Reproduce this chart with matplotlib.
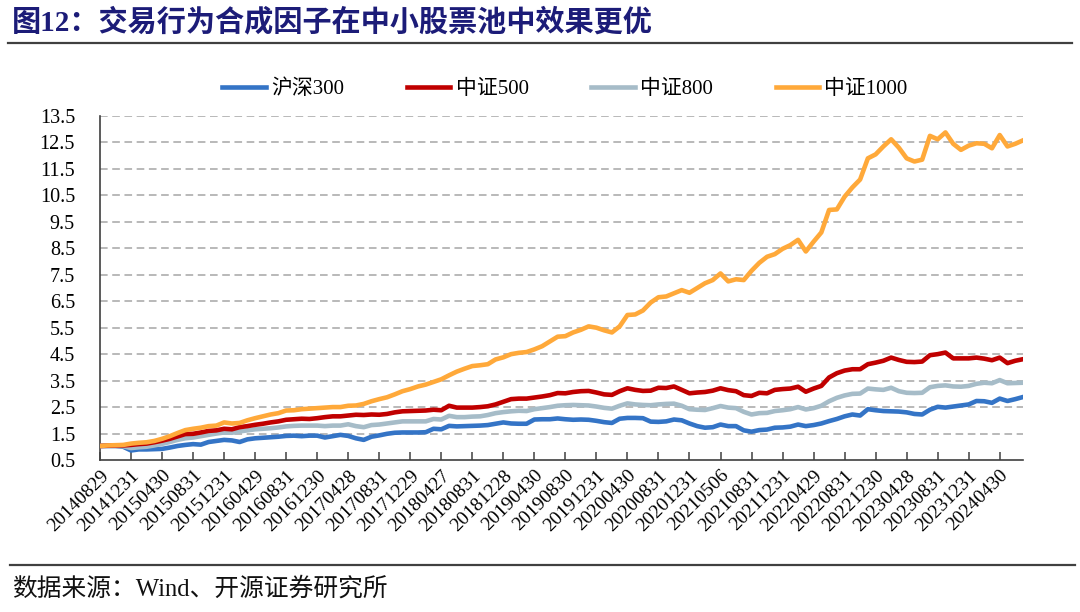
import matplotlib
matplotlib.use("Agg")
import matplotlib.pyplot as plt
from matplotlib.lines import Line2D

# ---- data ----
tick_labels = ["20140829", "20141231", "20150430", "20150831", "20151231", "20160429",
               "20160831", "20161230", "20170428", "20170831", "20171229", "20180427",
               "20180831", "20181228", "20190430", "20190830", "20191231", "20200430",
               "20200831", "20201231", "20210506", "20210831", "20211231", "20220429",
               "20220831", "20221230", "20230428", "20230831", "20231231", "20240430"]
series_names = ["沪深300", "中证500", "中证800", "中证1000"]

hs300 = [1.03, 1.03, 1.03, 1.00, 0.86, 0.90, 0.90, 0.91, 0.92, 0.97,
         1.03, 1.07, 1.10, 1.08, 1.18, 1.22, 1.26, 1.24, 1.18, 1.28,
         1.32, 1.34, 1.36, 1.38, 1.41, 1.42, 1.40, 1.42, 1.42, 1.35,
         1.40, 1.45, 1.41, 1.32, 1.26, 1.38, 1.43, 1.49, 1.53, 1.54,
         1.54, 1.54, 1.55, 1.68, 1.66, 1.79, 1.77, 1.78, 1.79, 1.80,
         1.82, 1.87, 1.92, 1.88, 1.87, 1.87, 2.03, 2.04, 2.04, 2.07,
         2.04, 2.02, 2.03, 2.02, 1.98, 1.93, 1.90, 2.06, 2.09, 2.09,
         2.08, 1.95, 1.94, 1.96, 2.03, 2.00, 1.88, 1.78, 1.72, 1.74,
         1.84, 1.78, 1.78, 1.62, 1.57, 1.63, 1.65, 1.72, 1.73, 1.76,
         1.84, 1.78, 1.82, 1.88, 1.97, 2.05, 2.15, 2.22, 2.18, 2.42,
         2.38, 2.35, 2.34, 2.33, 2.30, 2.24, 2.22, 2.40, 2.51, 2.48,
         2.52, 2.56, 2.60, 2.73, 2.72, 2.66, 2.82, 2.73, 2.80, 2.88]

zz500 = [1.03, 1.04, 1.05, 1.05, 1.07, 1.10, 1.12, 1.17, 1.23, 1.30,
         1.39, 1.48, 1.49, 1.54, 1.60, 1.62, 1.68, 1.66, 1.74, 1.78,
         1.83, 1.87, 1.92, 1.96, 2.02, 2.04, 2.06, 2.05, 2.08, 2.12,
         2.15, 2.15, 2.18, 2.21, 2.20, 2.22, 2.21, 2.24, 2.30, 2.34,
         2.35, 2.36, 2.37, 2.40, 2.38, 2.55, 2.48, 2.48, 2.48, 2.50,
         2.53, 2.60, 2.70, 2.80, 2.82, 2.82, 2.86, 2.90, 2.95, 3.03,
         3.02, 3.07, 3.10, 3.11, 3.05, 2.98, 2.96, 3.10, 3.21, 3.15,
         3.11, 3.12, 3.23, 3.22, 3.28, 3.15, 3.02, 3.05, 3.07, 3.12,
         3.21, 3.14, 3.10, 2.95, 2.92, 3.04, 3.02, 3.15, 3.18, 3.20,
         3.27, 3.08, 3.20, 3.30, 3.62, 3.78, 3.88, 3.93, 3.93, 4.12,
         4.18, 4.25, 4.37, 4.28, 4.21, 4.20, 4.22, 4.46, 4.50, 4.56,
         4.34, 4.34, 4.34, 4.37, 4.33, 4.27, 4.37, 4.16, 4.25, 4.31]

zz800 = [1.03, 1.03, 1.03, 1.02, 0.95, 0.98, 1.00, 1.05, 1.11, 1.18,
         1.26, 1.32, 1.35, 1.40, 1.45, 1.50, 1.54, 1.53, 1.58, 1.62,
         1.66, 1.68, 1.70, 1.73, 1.77, 1.79, 1.80, 1.80, 1.80, 1.78,
         1.80, 1.80, 1.85, 1.78, 1.74, 1.82, 1.84, 1.88, 1.92, 1.96,
         1.96, 1.96, 1.96, 2.05, 2.03, 2.17, 2.12, 2.12, 2.14, 2.15,
         2.20, 2.27, 2.31, 2.34, 2.36, 2.35, 2.42, 2.46, 2.50, 2.55,
         2.57, 2.58, 2.57, 2.56, 2.52, 2.47, 2.44, 2.55, 2.64, 2.60,
         2.58, 2.57, 2.60, 2.62, 2.63, 2.55, 2.42, 2.40, 2.39, 2.46,
         2.54, 2.48, 2.46, 2.32, 2.22, 2.27, 2.28, 2.35, 2.38, 2.42,
         2.50, 2.41, 2.46, 2.55, 2.72, 2.85, 2.94, 3.00, 3.01, 3.20,
         3.17, 3.15, 3.23, 3.10, 3.04, 3.03, 3.04, 3.25, 3.30, 3.32,
         3.28, 3.27, 3.30, 3.38, 3.42, 3.40, 3.52, 3.40, 3.41, 3.42]

zz1000 = [1.03, 1.05, 1.06, 1.07, 1.12, 1.15, 1.17, 1.22, 1.30, 1.40,
          1.52, 1.63, 1.68, 1.72, 1.78, 1.80, 1.92, 1.88, 1.90, 2.00,
          2.08, 2.15, 2.22, 2.27, 2.37, 2.38, 2.42, 2.44, 2.46, 2.48,
          2.50, 2.50, 2.55, 2.56, 2.62, 2.72, 2.80, 2.87, 2.98, 3.10,
          3.18, 3.28, 3.35, 3.45, 3.55, 3.70, 3.84, 3.95, 4.05, 4.08,
          4.12, 4.30, 4.38, 4.50, 4.55, 4.58, 4.68, 4.80, 4.98, 5.16,
          5.18, 5.32, 5.42, 5.55, 5.50, 5.40, 5.32, 5.55, 5.98, 6.00,
          6.15, 6.45, 6.65, 6.68, 6.80, 6.92, 6.82, 7.00, 7.18, 7.30,
          7.55, 7.25, 7.33, 7.30, 7.65, 7.95, 8.18, 8.28, 8.48, 8.62,
          8.82, 8.38, 8.75, 9.10, 9.95, 9.97, 10.45, 10.80, 11.10, 11.90,
          12.05, 12.35, 12.62, 12.30, 11.90, 11.78, 11.85, 12.75, 12.62, 12.88,
          12.45, 12.22, 12.38, 12.47, 12.45, 12.28, 12.78, 12.35, 12.45, 12.58]

series = [hs300, zz500, zz800, zz1000]
colors = ["#3474C6", "#C00000", "#A6BCC8", "#FFA93A"]
zorders = [3, 4, 3.5, 5]

# ---- figure ----
plt.rcParams['font.family'] = ['Liberation Serif', 'Noto Sans CJK SC', 'DejaVu Sans']
fig = plt.figure(figsize=(10.8, 6.12), dpi=100)
ax = fig.add_axes([100/1080, 1 - 460/612, (1023 - 100)/1080, (460 - 116)/612])

x = list(range(len(hs300)))
for name, ys, c, z in zip(series_names, series, colors, zorders):
    ax.plot(x, ys, color=c, lw=3.3, label=name, zorder=z, solid_joinstyle='round')

ax.set_xlim(0, len(hs300) - 1)
ax.set_ylim(0.5, 13.5)
yt = [0.5 + i for i in range(14)]
ax.set_yticks(yt)
ax.set_yticklabels([f"{v:.1f}" for v in yt], fontsize=14.5)
for v in yt[1:]:
    ax.axhline(v, color="#A6A6A6", lw=1.1, ls=(0, (5, 3)), zorder=1)

ax.set_xticks(list(range(0, len(tick_labels) * 4, 4)))
ax.set_xticklabels(tick_labels, rotation=45, ha='right', rotation_mode='anchor', fontsize=14)
ax.tick_params(axis='x', direction='in', length=6, color='#404040', width=1.1, pad=5)
ax.tick_params(axis='y', length=0, pad=18)

for s in ['top', 'right']:
    ax.spines[s].set_visible(False)
for s in ['left', 'bottom']:
    ax.spines[s].set_color('#404040')
    ax.spines[s].set_linewidth(1.2)

# legend
handles = [Line2D([0], [0], color=c, lw=3.3) for c in colors]
fig.legend(handles, series_names, loc='center', bbox_to_anchor=(565/1080, 1 - 89/612),
           ncol=4, frameon=False, fontsize=15, handlelength=2.1, handletextpad=0.25,
           columnspacing=3.0)

# title
fig.text(12/1080, 1 - 22/612, "图12：交易行为合成因子在中小股票池中效果更优",
         fontsize=21, color="#1C1C78", fontweight='bold', va='center', ha='left')
fig.add_artist(Line2D([8/1080, 1072/1080], [1 - 43/612, 1 - 43/612], color='#404040', lw=1.6))

# bottom line and source
fig.add_artist(Line2D([10/1080, 1075/1080], [1 - 565/612, 1 - 565/612], color='#404040', lw=1.6))
fig.text(12/1080, 1 - 589/612, "数据来源：Wind、开源证券研究所", fontsize=17.8,
         color='#111111', va='center', ha='left')

fig.savefig("out.png", dpi=100)
